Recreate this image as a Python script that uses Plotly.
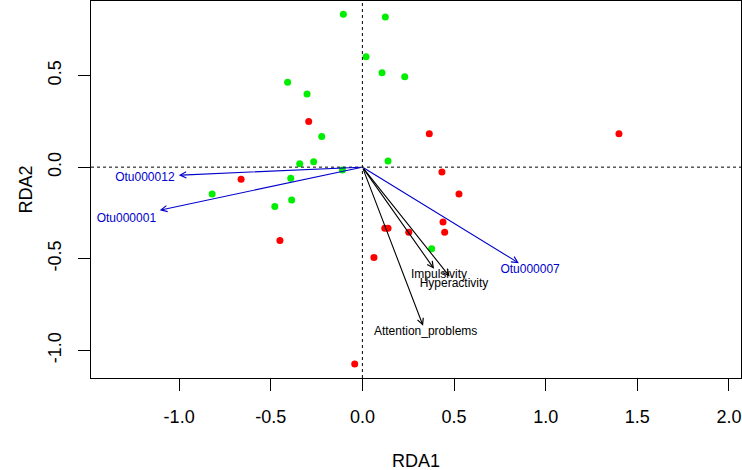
import plotly.graph_objects as go

# Site scores (RDA1, RDA2)
green_x = [-0.104, 0.020, -0.408, -0.302, -0.222, -0.342, -0.266, -0.109, -0.391,
           -0.820, -0.386, -0.478, 0.125, 0.107, 0.231, 0.140, 0.378]
green_y = [0.835, 0.602, 0.464, 0.400, 0.167, 0.018, 0.029, -0.015, -0.060,
           -0.147, -0.180, -0.215, 0.820, 0.516, 0.493, 0.034, -0.446]
red_x = [-0.293, -0.662, -0.450, -0.042, 0.365, 1.400, 0.434, 0.527, 0.440,
         0.449, 0.122, 0.140, 0.253, 0.063]
red_y = [0.249, -0.066, -0.400, -1.075, 0.182, 0.183, -0.026, -0.146, -0.300,
         -0.355, -0.333, -0.333, -0.355, -0.493]

# Species arrows (blue)
otu_names = ["Otu000012", "Otu000001", "Otu000007"]
otu_x = [-1.002, -1.106, 0.854]
otu_y = [-0.044, -0.235, -0.524]
otu_lab_x = [-1.187, -1.288, 0.915]
otu_lab_y = [-0.057, -0.282, -0.564]

# Environmental arrows (black)
env_names = ["Impulsivity", "Hyperactivity", "Attention_problems"]
env_x = [0.391, 0.476, 0.331]
env_y = [-0.555, -0.597, -0.866]
env_lab_x = [0.418, 0.500, 0.345]
env_lab_y = [-0.591, -0.637, -0.900]

x_ticks = [-1.0, -0.5, 0.0, 0.5, 1.0, 1.5, 2.0]
y_ticks = [-1.0, -0.5, 0.0, 0.5]
x_range = [-1.481, 2.066]
y_range = [-1.151, 0.907]

FONT = "Liberation Sans, Arial, sans-serif"

fig = go.Figure()

fig.add_trace(go.Scatter(x=green_x, y=green_y, mode="markers",
                         marker=dict(color="#00ee00", size=7, line=dict(width=0)),
                         hoverinfo="skip", showlegend=False))
fig.add_trace(go.Scatter(x=red_x, y=red_y, mode="markers",
                         marker=dict(color="#ff0000", size=7, line=dict(width=0)),
                         hoverinfo="skip", showlegend=False))

fig.add_trace(go.Scatter(x=otu_lab_x, y=otu_lab_y, mode="text", text=otu_names,
                         textfont=dict(family=FONT, size=12, color="#0000cc"),
                         textposition="middle center", hoverinfo="skip", showlegend=False))
fig.add_trace(go.Scatter(x=env_lab_x, y=env_lab_y, mode="text", text=env_names,
                         textfont=dict(family=FONT, size=12, color="black"),
                         textposition="middle center", hoverinfo="skip", showlegend=False))

annotations = []
for xs, ys, col in [(otu_x, otu_y, "#0000cc"), (env_x, env_y, "black")]:
    for x, y in zip(xs, ys):
        annotations.append(dict(x=x, y=y, ax=0, ay=0, xref="x", yref="y",
                                axref="x", ayref="y", text="", showarrow=True,
                                arrowhead=5, arrowsize=1.1, arrowwidth=1.1,
                                arrowcolor=col, standoff=0, startstandoff=0))

annotations.append(dict(text="RDA1", xref="paper", yref="paper", x=0.5, y=0,
                        yshift=-83, showarrow=False, yanchor="middle",
                        font=dict(family=FONT, size=18, color="black")))
annotations.append(dict(text="RDA2", xref="paper", yref="paper", x=0, y=0.5,
                        xshift=-66, showarrow=False, textangle=-90, xanchor="center",
                        font=dict(family=FONT, size=18, color="black")))

shapes = [
    dict(type="line", xref="x", yref="paper", x0=0, x1=0, y0=0, y1=1,
         line=dict(color="black", width=1, dash="dot")),
    dict(type="line", xref="paper", yref="y", x0=0, x1=1, y0=0, y1=0,
         line=dict(color="black", width=1, dash="dot")),
]

fig.update_layout(
    width=742, height=470,
    margin=dict(l=91, r=1, t=1, b=92, autoexpand=False),
    paper_bgcolor="white", plot_bgcolor="white",
    font=dict(family=FONT, size=18, color="black"),
    annotations=annotations, shapes=shapes,
    xaxis=dict(range=x_range, tickvals=x_ticks, ticktext=[f"{v:.1f}" for v in x_ticks],
               showgrid=False, zeroline=False, showline=True, mirror=True,
               linecolor="black", linewidth=1, ticks="outside", ticklen=12,
               tickcolor="black", tickwidth=1, ticklabelstandoff=10, automargin=False,
               tickfont=dict(family=FONT, size=18)),
    yaxis=dict(range=y_range, tickvals=y_ticks, ticktext=[f"{v:.1f}" for v in y_ticks],
               showgrid=False, zeroline=False, showline=True, mirror=True,
               linecolor="black", linewidth=1, ticks="outside", ticklen=12,
               tickcolor="black", tickwidth=1, tickangle=-90, ticklabelstandoff=10,
               automargin=False, tickfont=dict(family=FONT, size=18)),
)

fig.write_html("out.html", config={"displayModeBar": False, "staticPlot": True},
               post_script="document.body.style.margin='0';document.body.style.overflow='hidden';")
